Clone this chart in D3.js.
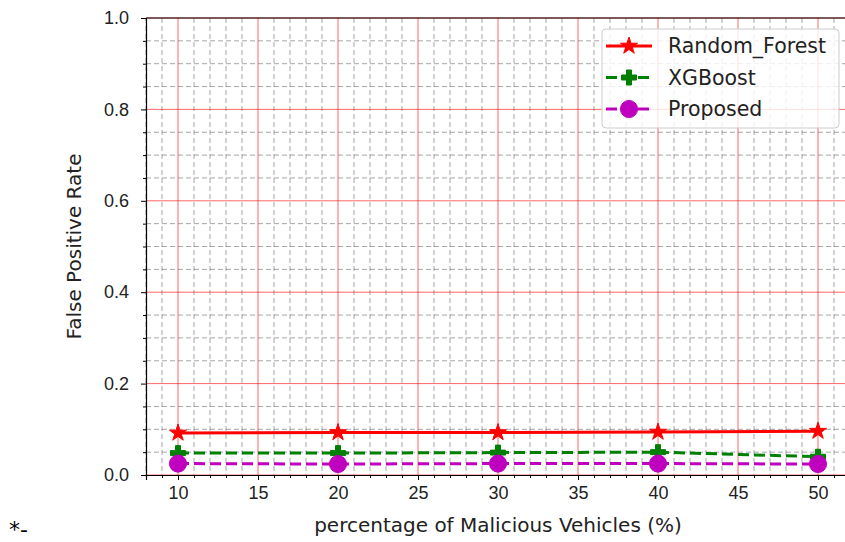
<!DOCTYPE html>
<html>
<head>
<meta charset="utf-8">
<script src="https://cdn.jsdelivr.net/npm/d3@7"></script>
<style>
  body { margin: 0; background: #fff; }
  svg { font-family: "DejaVu Sans", sans-serif; }
</style>
</head>
<body>
<svg id="chart" width="845" height="542"></svg>
<script>
// data
var percentages = [10, 20, 30, 40, 50];
var randomForest = [0.092, 0.093, 0.093, 0.094, 0.096];
var xgboost = [0.048, 0.048, 0.049, 0.050, 0.040];
var proposed = [0.025, 0.024, 0.025, 0.025, 0.024];
var seriesNames = ["Random_Forest", "XGBoost", "Proposed"];
var xTicks = [10, 15, 20, 25, 30, 35, 40, 45, 50];
var yTicks = [0.0, 0.2, 0.4, 0.6, 0.8, 1.0];

var svg = d3.select("#chart"),
    mLeft = 146, mRight = 850, mTop = 18, mBottom = 475;

var x = d3.scaleLinear().domain([8, 52]).range([mLeft, mRight]),
    y = d3.scaleLinear().domain([0, 1]).range([mBottom, mTop]);

var grid = svg.append("g");

// minor grid (dashed, gray), skipping the major positions
var xMinor = d3.range(8, 53, 1).filter(d => d % 5 != 0),
    yMinor = d3.range(0, 21, 1).filter(d => d % 4 != 0).map(d => d * 0.05);
grid.selectAll(".xminor").data(xMinor).enter().append("line")
    .attr("x1", d => x(d)).attr("x2", d => x(d))
    .attr("y1", mTop).attr("y2", mBottom)
    .attr("stroke", "#000").attr("stroke-opacity", 0.35)
    .attr("stroke-width", 1).attr("stroke-dasharray", "5,3");
grid.selectAll(".yminor").data(yMinor).enter().append("line")
    .attr("x1", mLeft).attr("x2", mRight)
    .attr("y1", d => y(d)).attr("y2", d => y(d))
    .attr("stroke", "#000").attr("stroke-opacity", 0.35)
    .attr("stroke-width", 1).attr("stroke-dasharray", "5,3");

// major grid (red)
grid.selectAll(".xmajor").data(xTicks).enter().append("line")
    .attr("x1", d => x(d)).attr("x2", d => x(d))
    .attr("y1", mTop).attr("y2", mBottom)
    .attr("stroke", "red").attr("stroke-opacity", 0.6).attr("stroke-width", 1);
grid.selectAll(".ymajor").data(yTicks).enter().append("line")
    .attr("x1", mLeft).attr("x2", mRight)
    .attr("y1", d => y(d)).attr("y2", d => y(d))
    .attr("stroke", "red").attr("stroke-opacity", 0.6).attr("stroke-width", 1);

// axes
var xAxis = svg.append("g").attr("transform", "translate(0," + mBottom + ")")
    .call(d3.axisBottom(x).tickValues(xTicks).tickSize(5).tickPadding(6).tickFormat(d3.format("d")));
var yAxis = svg.append("g").attr("transform", "translate(" + mLeft + ",0)")
    .call(d3.axisLeft(y).tickValues(yTicks).tickSize(5).tickPadding(12).tickFormat(d3.format(".1f")));
// minor ticks
svg.append("g").attr("transform", "translate(0," + mBottom + ")")
    .call(d3.axisBottom(x).tickValues(xMinor).tickSize(3).tickFormat(""))
    .select(".domain").remove();
svg.append("g").attr("transform", "translate(" + mLeft + ",0)")
    .call(d3.axisLeft(y).tickValues(yMinor).tickSize(3).tickFormat(""))
    .select(".domain").remove();

[xAxis, yAxis].forEach(function(a) {
    a.selectAll("text").style("font-size", "18px").attr("fill", "#222");
    a.select(".domain").attr("stroke", "#000").attr("stroke-width", 1.2);
});

// top spine
svg.append("line").attr("x1", mLeft).attr("x2", mRight).attr("y1", mTop).attr("y2", mTop)
    .attr("stroke", "#000").attr("stroke-width", 1.2);

// axis labels
svg.append("text").attr("x", x(30)).attr("y", 532).attr("text-anchor", "middle")
    .style("font-size", "20px").attr("fill", "#222")
    .text("percentage of Malicious Vehicles (%)");
svg.append("text").attr("transform", "translate(81," + y(0.5) + ") rotate(-90)")
    .attr("text-anchor", "middle").style("font-size", "20px").attr("fill", "#222")
    .text("False Positive Rate");

// series
var series = [
    { name: seriesNames[0], values: randomForest, color: "red", dash: null, marker: "star" },
    { name: seriesNames[1], values: xgboost, color: "green", dash: "11,5", marker: "plus" },
    { name: seriesNames[2], values: proposed, color: "#bf00bf", dash: "11,5", marker: "circle" }
];

var line = d3.line().x((d, i) => x(percentages[i])).y(d => y(d));
var star = d3.symbol().type(d3.symbolStar).size(90),
    circle = d3.symbol().type(d3.symbolCircle).size(230);

function plusPath(s) {
    var a = s / 2, b = s / 6;
    return "M" + (-b) + "," + (-a) + "H" + b + "V" + (-b) + "H" + a + "V" + b + "H" + b +
        "V" + a + "H" + (-b) + "V" + b + "H" + (-a) + "V" + (-b) + "H" + (-b) + "Z";
}

function drawMarker(g, type, color, cx, cy) {
    var p;
    if (type == "star") p = star();
    else if (type == "circle") p = circle();
    else p = plusPath(15);
    g.append("path").attr("d", p).attr("transform", "translate(" + cx + "," + cy + ")")
        .attr("fill", color).attr("stroke", color).attr("stroke-width", 1);
}

var plot = svg.append("g");
series.forEach(function(s) {
    plot.append("path").datum(s.values)
        .attr("d", line).attr("fill", "none")
        .attr("stroke", s.color).attr("stroke-width", 3)
        .attr("stroke-dasharray", s.dash);
});
series.forEach(function(s) {
    s.values.forEach(function(v, i) {
        drawMarker(plot, s.marker, s.color, x(percentages[i]), y(v));
    });
});

// legend
var legend = svg.append("g");
legend.append("rect").attr("x", 602).attr("y", 29).attr("width", 237).attr("height", 99)
    .attr("rx", 4).attr("fill", "#fff").attr("fill-opacity", 0.8)
    .attr("stroke", "#ccc").attr("stroke-width", 1);
series.forEach(function(s, i) {
    var ly = 46 + i * 31.5;
    legend.append("line").attr("x1", 606).attr("x2", 652).attr("y1", ly).attr("y2", ly)
        .attr("stroke", s.color).attr("stroke-width", 3)
        .attr("stroke-dasharray", s.dash);
    drawMarker(legend, s.marker, s.color, 629, ly);
    legend.append("text").attr("x", 668).attr("y", ly).attr("dy", "0.35em")
        .style("font-size", "20.5px").attr("fill", "#222").text(s.name);
});

// stray text at the bottom left
svg.append("text").attr("x", 9).attr("y", 537).style("font-size", "22px")
    .attr("fill", "#000").text("*-");
</script>
</body>
</html>
